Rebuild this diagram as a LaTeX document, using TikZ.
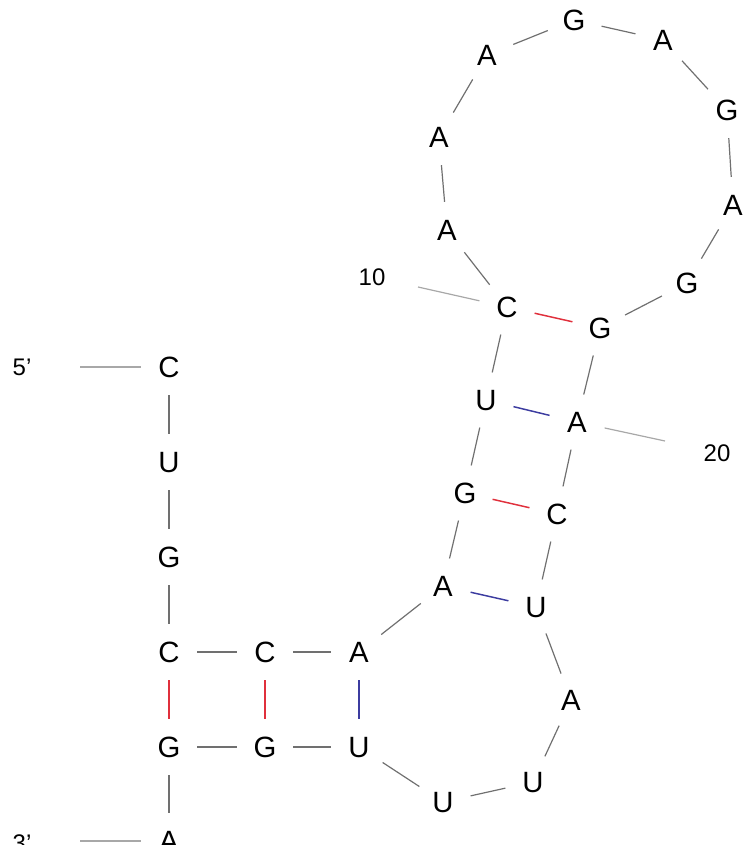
\documentclass[tikz,border=0pt]{standalone}
\usepackage{fontspec}
\setmainfont{Liberation Sans}
\usepackage{xcolor}
\usepackage{tikz}
\definecolor{PairGC}{HTML}{E0303C}
\definecolor{PairAU}{HTML}{3C3CA0}
\definecolor{Spine}{HTML}{707070}
\definecolor{Tick}{HTML}{A8A8A8}

\tikzset{
  nt/.style={circle,inner sep=0pt,minimum size=42pt,font=\fontsize{22}{22}\selectfont,text height=15.7pt,text depth=0pt},
  lbl/.style={inner sep=0pt,font=\fontsize{18}{18}\selectfont,text height=12.9pt,text depth=0pt},
  spine/.style={Spine,line width=.9pt},
  tick/.style={Tick,line width=.9pt},
  gc/.style={PairGC,line width=1.1pt},
  au/.style={PairAU,line width=1.1pt}
}

\begin{document}
\begin{tikzpicture}[x=.75pt,y=-.75pt]
\useasboundingbox (0,0) rectangle (753,845);
\foreach \n/\b/\px/\py in {1/C/169/367,2/U/169/462,3/G/169/557,4/C/169/652,5/C/265/652,
  6/A/359/652,7/A/443/586,8/G/465/493,9/U/486/400,10/C/507/307,11/A/447/230,12/A/439/137,
  13/A/487/55,14/G/574/20,15/A/663/40,16/G/727/110,17/A/733/205,18/G/687/283,19/G/600/328,
  20/A/577/422,21/C/557/514,22/U/536/607,23/A/571/700,24/U/533/782,25/U/443/802,
  26/U/359/747,27/G/265/747,28/G/169/747,29/A/169/841}
  \node[nt] (n\n) at (\px,\py) {\b};
\foreach \i in {1,...,28}{
  \pgfmathtruncatemacro\j{\i+1}
  \draw[spine] (n\i) -- (n\j);
}
\draw[gc] (n4) -- (n28);
\draw[gc] (n5) -- (n27);
\draw[au] (n6) -- (n26);
\draw[au] (n7) -- (n22);
\draw[gc] (n8) -- (n21);
\draw[au] (n9) -- (n20);
\draw[gc] (n10) -- (n19);
% ends and numbering
\node[lbl] (five) at (22,367) {5'};
\node[lbl] (three) at (22,843) {3'};
\coordinate (e5) at (80,367);
\coordinate (e3) at (80,841);
\draw[tick] (e5) -- (n1);
\draw[tick] (e3) -- (n29);
\node[lbl] (ten) at (372,277) {10};
\node[lbl] (twenty) at (717,453) {20};
\coordinate (t10) at (418,287);
\coordinate (t20) at (665,441);
\draw[tick] (t10) -- (n10);
\draw[tick] (t20) -- (n20);
\end{tikzpicture}
\end{document}
